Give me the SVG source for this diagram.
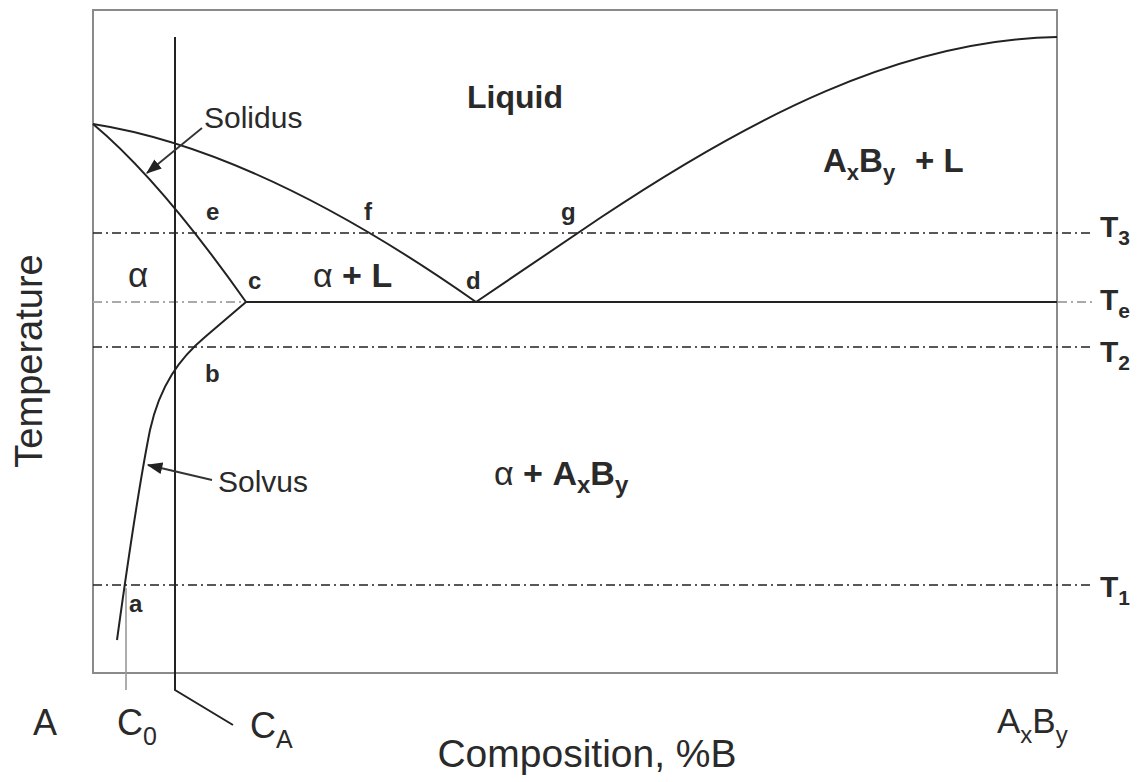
<svg xmlns="http://www.w3.org/2000/svg" width="1138" height="782" viewBox="0 0 1138 782">
<style>
.frame{fill:none;stroke:#8a8a8a;stroke-width:2}
.curve{fill:none;stroke:#222;stroke-width:2;stroke-linejoin:miter}
.iso{fill:none;stroke:#222;stroke-width:1.4;stroke-dasharray:9 4 2 4}
.isog{fill:none;stroke:#aaa;stroke-width:2;stroke-dasharray:9 4 2 4}
.lbl{font-family:"Liberation Sans",Arial,sans-serif;fill:#2a2a2a}
.b{font-weight:bold}
.pt{font-family:"Liberation Sans",Arial,sans-serif;font-weight:bold;font-size:24px;fill:#2a2a2a}
.ptr{fill:none;stroke:#333;stroke-width:1.8}
</style>
<defs>
<marker id="ah2" viewBox="0 0 12 10" refX="11" refY="5" markerWidth="16" markerHeight="13" orient="auto" markerUnits="userSpaceOnUse">
<path d="M0,0.5 L12,5 L0,9.5 z" fill="#222"/>
</marker>
</defs>
<rect width="1138" height="782" fill="#fff"/>
<g id="frame"><rect class="frame" x="93" y="10" width="964" height="663"/></g>
<g id="isotherms">
<line class="iso" x1="93" y1="233" x2="1092" y2="233"/>
<line class="isog" x1="93" y1="302" x2="246" y2="302"/>
<line class="isog" x1="1058" y1="302" x2="1092" y2="302"/>
<line class="iso" x1="93" y1="347" x2="1092" y2="347"/>
<line class="iso" x1="93" y1="585" x2="1092" y2="585"/>
</g>
<g id="phase-boundaries">
<path class="curve" d="M93,124 Q260,150 476,302"/>
<path class="curve" d="M93,124 Q160,180 246,302"/>
<path class="curve" d="M246,302 L1057,302"/>
<path class="curve" d="M476,302 L600,218 C750,118 900,40 1057,37"/>
<path class="curve" d="M246,302 L205,337 C180,358 160,385 150,430 C140,480 128,560 117,640"/>
</g>
<g id="compositions">
<line x1="126" y1="588" x2="126" y2="690" stroke="#999" stroke-width="1.6"/>
<path class="curve" d="M175,37 L175,690 L233,725" stroke-width="2.4"/>
</g>
<g id="connectors">
<line class="ptr" x1="202" y1="128" x2="147" y2="173" marker-end="url(#ah2)"/>
<line class="ptr" x1="212" y1="480" x2="148" y2="465" marker-end="url(#ah2)"/>
</g>
<g id="labels">
<text class="lbl b" x="467" y="108" font-size="32">Liquid</text>
<text class="lbl" x="204" y="128" font-size="30">Solidus</text>
<text class="lbl" x="218" y="492" font-size="30">Solvus</text>
<text class="lbl" x="128" y="287" font-size="35">α</text>
<text class="lbl" x="313" y="287" font-size="34">α<tspan class="b"> + L</tspan></text>
<text class="lbl b" x="823" y="172" font-size="33">A<tspan font-size="22" dy="8">x</tspan><tspan dy="-8">B</tspan><tspan font-size="22" dy="8">y</tspan><tspan x="915" dy="-8">+ L</tspan></text>
<text class="lbl" x="494" y="485" font-size="34">α<tspan class="b"> + A</tspan><tspan class="b" font-size="24" dy="8">x</tspan><tspan class="b" dy="-8">B</tspan><tspan class="b" font-size="24" dy="8">y</tspan></text>
<text class="pt" x="206" y="220">e</text>
<text class="pt" x="364" y="220">f</text>
<text class="pt" x="561" y="220">g</text>
<text class="pt" x="248" y="289">c</text>
<text class="pt" x="466" y="289">d</text>
<text class="pt" x="205" y="382">b</text>
<text class="pt" x="129" y="612">a</text>
<text class="lbl b" x="1100" y="237" font-size="30">T<tspan font-size="21" dy="8">3</tspan></text>
<text class="lbl b" x="1100" y="310" font-size="30">T<tspan font-size="21" dy="8">e</tspan></text>
<text class="lbl b" x="1100" y="362" font-size="30">T<tspan font-size="21" dy="8">2</tspan></text>
<text class="lbl b" x="1100" y="597" font-size="30">T<tspan font-size="21" dy="8">1</tspan></text>
<text class="lbl" x="33" y="735" font-size="36">A</text>
<text class="lbl" x="117" y="735" font-size="36">C<tspan font-size="25" dy="10">0</tspan></text>
<text class="lbl" x="250" y="738" font-size="36">C<tspan font-size="25" dy="10">A</tspan></text>
<text class="lbl" x="997" y="733" font-size="35">A<tspan font-size="24" dy="10">x</tspan><tspan dy="-10">B</tspan><tspan font-size="24" dy="10">y</tspan></text>
<text class="lbl" x="587" y="767" font-size="39" text-anchor="middle">Composition, %B</text>
<text class="lbl" transform="translate(42,361) rotate(-90)" font-size="38" text-anchor="middle">Temperature</text>
</g>
</svg>
